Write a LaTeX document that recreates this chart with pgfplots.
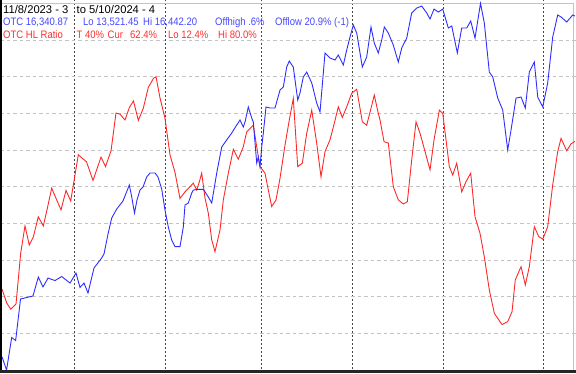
\documentclass[border=0pt]{standalone}
\usepackage{fontspec}
\setmainfont{Liberation Sans}
\newfontfamily\labfont[FakeStretch=0.88]{Liberation Sans}
\usepackage{pgfplots}
\pgfplotsset{compat=1.18}
\definecolor{lineblue}{RGB}{45,45,255}
\definecolor{linered}{RGB}{255,40,40}
\definecolor{txtblue}{RGB}{70,70,255}
\definecolor{txtred}{RGB}{255,45,45}
\definecolor{gridgray}{RGB}{195,195,195}
\definecolor{vgray}{RGB}{70,70,70}
\begin{document}
\begin{tikzpicture}
\begin{axis}[
  name=ax,
  at={(0,0)}, anchor=south west,
  width=576pt, height=373pt, scale only axis,
  xmin=-0.44, xmax=126.15,
  ymin=-0.82, ymax=100.95,
  axis line style={draw=none},
  tick style={draw=none},
  xticklabels={}, yticklabels={},
  xtick={16,57,77,97,119},
  ytick={10,20,30,40,60,70,80,90},
  extra x ticks={36},
  extra x tick labels={},
  extra x tick style={grid style={linered, line width=0.9pt, dash pattern=on 3pt off 3pt}},
  extra y ticks={50},
  extra y tick labels={},
  extra y tick style={grid style={gridgray, line width=0.9pt, solid}},
  xmajorgrids, ymajorgrids,
  x grid style={vgray, line width=1pt, dash pattern=on 2pt off 2pt},
  y grid style={gridgray, line width=0.9pt, dash pattern=on 3.5pt off 3pt},
  clip=true,
]
% frame
\draw[gridgray, line width=1pt] (axis cs:-0.44,100) -- (axis cs:125.7,100);
\draw[gridgray, line width=1pt] (axis cs:125.7,100) -- (axis cs:125.7,-0.82);
% OTC HL Ratio (red, %)
\addplot[linered, line width=0.9pt] coordinates {
(0,22.1) (1.03,18.3) (1.91,16.6) (3.08,18.0) (4.11,31.9) (5.05,39.3) (6.0,34.1) (6.88,36.3)
(7.98,41.8) (9.08,39.3) (9.96,44.1) (10.92,49.6) (12.02,46.4) (12.97,43.7) (14.07,49.0) (15.1,46.1)
(16.77,58.7) (18.57,56.8) (20.0,51.7) (21.76,58.1) (22.75,55.5) (23.96,59.8) (25.05,70.1) (25.93,69.8)
(27.03,68.2) (27.98,71.6) (28.9,73.4) (29.96,68.1) (31.05,71.4) (32.15,77.1) (33.3,79.6) (33.85,80.0)
(34.73,74.2) (35.82,68.7) (36.92,58.7) (38.02,53.9) (39.12,46.8) (40.22,48.6) (41.32,50.0) (42.04,51.0)
(42.79,49.1) (43.36,51.3) (43.89,53.7) (44.62,46.9) (45.34,42.8) (46.09,35.5) (46.81,32.3) (47.91,38.2)
(48.64,46.4) (49.74,53.7) (50.84,60.2) (51.93,57.5) (53.03,60.9) (53.78,65.0) (55.23,66.8) (55.98,60.9)
(56.7,55.5) (57.8,53.7) (58.53,49.1) (59.27,44.6) (60.22,46.4) (61.1,52.3) (62.2,61.4) (63.14,68.2)
(64.02,74.1) (64.99,55.5) (66.0,56.4) (66.97,64.6) (68.07,70.9) (69.16,61.9) (70.11,52.7) (70.99,59.6)
(72.09,62.8) (73.03,67.3) (73.91,71.8) (74.79,68.9) (75.76,71.8) (76.86,75.5) (77.96,76.6) (79.19,67.7)
(80.15,66.8) (81.1,71.4) (81.82,75.0) (82.7,70.0) (83.08,68.2) (83.96,62.3) (84.9,61.9) (86.0,50.0)
(87.1,46.4) (88.2,45.3) (89.08,45.9) (90.04,57.3) (90.99,67.7) (91.87,64.6) (92.97,59.6) (94.07,54.6)
(94.95,62.8) (96.12,70.9) (96.86,70.0) (97.58,62.8) (98.31,55.5) (99.05,53.2) (99.93,56.4) (101.03,48.6)
(101.98,51.4) (103.01,53.7) (103.96,41.8) (105.05,37.3) (106.0,30.9) (107.1,21.8) (108.2,15.5) (108.95,14.1)
(109.89,12.4) (111.14,13.2) (112.09,15.9) (112.81,24.6) (114.07,28.2) (115.01,23.2) (115.89,28.2) (116.99,39.1)
(117.96,36.4) (118.84,35.7) (119.93,39.1) (121.03,50.5) (122.13,59.6) (122.86,63.2) (124.11,59.8) (125.05,61.7)
(125.93,62.4)
};
% labels
\path[font=\fontsize{11.2}{13}\selectfont, inner sep=0pt, anchor=west]
  (rel axis cs:{3/576},{1-9.5/373}) node[black] {11/8/2023 - 3}
  (rel axis cs:{76.5/576},{1-9.5/373}) node[black] {to 5/10/2024 - 4};
\path[font=\labfont\fontsize{10.8}{12}\selectfont, inner sep=0pt, anchor=west]
  (rel axis cs:{3/576},{1-22.5/373}) node[txtblue] {OTC 16,340.87}
  (rel axis cs:{83/576},{1-22.5/373}) node[txtblue] {Lo 13,521.45}
  (rel axis cs:{143/576},{1-22.5/373}) node[txtblue] {Hi 16,442.20}
  (rel axis cs:{215/576},{1-22.5/373}) node[txtblue] {Offhigh .6\%}
  (rel axis cs:{275/576},{1-22.5/373}) node[txtblue] {Offlow 20.9\% (-1)}
  (rel axis cs:{3/576},{1-35/373}) node[txtred] {OTC HL Ratio}
  (rel axis cs:{76.5/576},{1-35/373}) node[txtred] {T 40\%}
  (rel axis cs:{107.5/576},{1-35/373}) node[txtred] {Cur}
  (rel axis cs:{130/576},{1-35/373}) node[txtred] {62.4\%}
  (rel axis cs:{168/576},{1-35/373}) node[txtred] {Lo 12.4\%}
  (rel axis cs:{218/576},{1-35/373}) node[txtred] {Hi 80.0\%};
\end{axis}
\begin{axis}[
  at={(0,0)}, anchor=south west,
  width=576pt, height=373pt, scale only axis,
  xmin=-0.44, xmax=126.15,
  ymin=13497.5, ymax=16469.2,
  hide axis, clip=true,
]
% OTC composite (blue)
\addplot[lineblue, line width=0.9pt] coordinates {
(0,13627) (1.0,13521) (2.13,13780) (3.0,13756) (4.07,14087) (6.81,14111) (7.98,14262) (9.01,14183)
(10.11,14254) (11.65,14234) (13.12,14266) (14.95,14214) (16.26,14294) (17.14,14179) (18.02,14214) (18.9,14135)
(20.22,14334) (21.91,14414) (22.42,14446) (23.3,14605) (24.11,14732) (25.21,14804) (26.59,14868) (27.98,14995)
(28.51,14900) (29.12,14772) (29.67,14876) (30.33,14955) (30.99,14979) (31.8,15059) (32.53,15091) (33.63,15091)
(34.29,15059) (35.1,14963) (35.82,14796) (36.55,14661) (37.29,14557) (38.02,14504) (39.12,14504) (39.85,14661)
(40.22,14836) (40.95,14852) (41.69,14931) (42.04,14955) (43.14,14961) (44.24,14961) (45.34,14900) (46.09,14852)
(47.19,15091) (48.29,15298) (49.38,15354) (50.48,15409) (51.58,15473) (52.31,15513) (53.03,15457) (53.41,15497)
(54.13,15617) (54.88,15529) (55.23,15497) (55.98,15170) (56.33,15218) (56.7,15139) (57.08,15298) (57.43,15409)
(58.02,15617) (58.9,15609) (60.0,15609) (61.1,15752) (61.82,15776) (62.57,15935) (63.14,15983) (64.02,15935)
(64.99,15672) (65.49,15728) (66.22,15856) (66.97,15895) (68.07,15808) (69.16,15649) (69.89,15577) (70.99,16047)
(72.09,16007) (73.19,15991) (73.91,16031) (75.01,15951) (75.76,16071) (76.48,16174) (77.21,16270) (77.96,16206)
(78.46,16095) (79.19,15935) (80.15,16015) (81.1,16254) (81.82,16126) (82.7,16047) (83.45,16150) (84.02,16254)
(84.9,16206) (86.0,16110) (87.1,15975) (87.85,16087) (88.95,16166) (90.04,16366) (91.14,16405) (92.24,16421)
(93.34,16366) (94.07,16318) (94.95,16397) (95.89,16373) (96.86,16397) (98.09,16246) (98.84,16262) (100.07,16047)
(101.03,16246) (102.13,16246) (103.01,16302) (103.96,16166) (105.16,16442.2) (106.0,16286) (107.1,15895) (107.85,15856)
(108.95,15688) (110.04,15593) (111.14,15274) (111.87,15433) (112.97,15688) (114.07,15696) (115.01,15609) (115.89,15895)
(116.99,15975) (117.74,15696) (118.84,15617) (119.93,15808) (121.03,16174) (122.13,16350) (122.86,16334) (124.11,16294)
(125.43,16350) (125.93,16340.87)
};
% dark sunken frame edges
\draw[black, line width=2.2pt] (rel axis cs:{1/576},0) -- (rel axis cs:{1/576},1);
\draw[black!85, line width=2.5pt] (rel axis cs:0,{1.5/373}) -- (rel axis cs:1,{1.5/373});
\end{axis}
\pgfresetboundingbox
\useasboundingbox (ax.south west) rectangle (ax.north east);
\end{tikzpicture}
\end{document}
